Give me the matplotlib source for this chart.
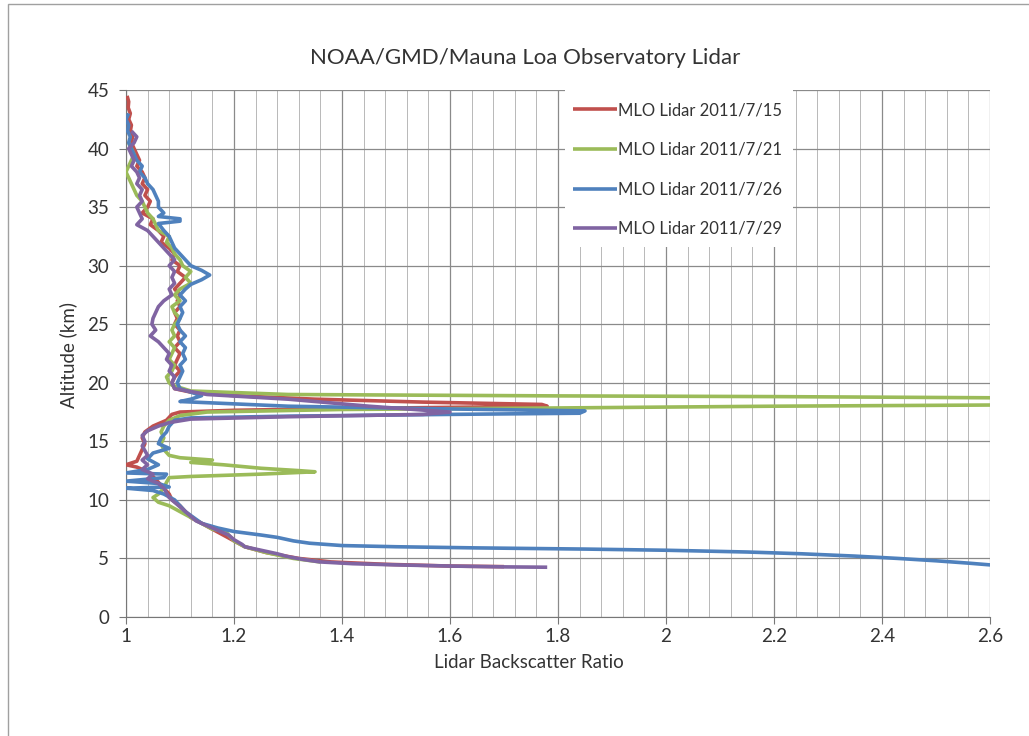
import matplotlib
matplotlib.use("Agg")
import matplotlib.pyplot as plt
from matplotlib.patches import Rectangle
from matplotlib.ticker import MultipleLocator

plt.rcParams["font.family"] = ["Lato", "DejaVu Sans"]

labels = ["MLO Lidar 2011/7/15", "MLO Lidar 2011/7/21", "MLO Lidar 2011/7/26", "MLO Lidar 2011/7/29"]
colors = ["#C0504D", "#9BBB59", "#4F81BD", "#8064A2"]

# 2011/7/15 profile (backscatter ratio, altitude km), traced top to bottom
red_x = [1.002, 1.005, 1.004, 1.008, 1.005, 1.01, 1.008, 1.012, 1.01, 1.015, 1.02, 1.025, 1.02, 1.03,
         1.035, 1.03, 1.04, 1.035, 1.045, 1.04, 1.03, 1.05, 1.045, 1.06, 1.07, 1.065, 1.08, 1.09, 1.085,
         1.1, 1.095, 1.11, 1.1, 1.09, 1.1, 1.095, 1.1, 1.09, 1.095, 1.09, 1.1, 1.095, 1.1, 1.09, 1.1,
         1.095, 1.09, 1.1, 1.09, 1.085, 1.09,
         1.12, 1.2, 1.35, 1.55, 1.77, 1.78, 1.6, 1.4, 1.2, 1.1, 1.085,
         1.075, 1.05, 1.035, 1.03, 1.035, 1.03, 1.025, 1.02, 1.0, 1.02, 1.04, 1.05, 1.06, 1.07, 1.08,
         1.085, 1.1, 1.11, 1.12, 1.14, 1.16, 1.18, 1.2, 1.22, 1.26, 1.32, 1.38, 1.48, 1.6, 1.7]
red_alt = [44.5, 44, 43.5, 43, 42.5, 42, 41.5, 41, 40.5, 40, 39.5, 39, 38.5, 38, 37.5, 37, 36.5, 36,
           35.5, 35, 34.5, 34, 33.5, 33, 32.5, 32, 31.5, 31, 30.5, 30, 29.5, 29, 28.5, 28, 27.5, 27,
           26.5, 26, 25.5, 25, 24.5, 24, 23.5, 23, 22.5, 22, 21.5, 21, 20.5, 20, 19.5,
           19.2, 18.9, 18.6, 18.35, 18.15, 18.0, 17.9, 17.8, 17.65, 17.5, 17.3,
           16.8, 16.3, 15.8, 15.3, 14.8, 14.3, 13.8, 13.3, 13.0, 12.8, 12.4, 12.0, 11.5, 11.0, 10.5,
           10.0, 9.5, 9.0, 8.5, 8.0, 7.5, 7.0, 6.5, 6.0, 5.5, 5.0, 4.7, 4.5, 4.35, 4.3]

# 2011/7/21 profile
green_x = [1.005, 1.01, 1.015, 1.01, 1.005, 1.0, 1.005, 1.01, 1.015, 1.02, 1.03, 1.035, 1.04, 1.05,
           1.055, 1.06, 1.08, 1.075, 1.085, 1.09, 1.1, 1.105, 1.12, 1.11, 1.12, 1.1, 1.09, 1.1, 1.085,
           1.09, 1.1, 1.09, 1.085, 1.09, 1.08, 1.09, 1.085, 1.08, 1.09, 1.085, 1.075, 1.08, 1.085,
           1.12, 1.3, 1.8, 2.2, 2.6, 2.8, 2.6, 2.2, 1.8, 1.4, 1.15, 1.1, 1.08,
           1.07, 1.065, 1.07, 1.065, 1.07, 1.08, 1.1, 1.16, 1.12, 1.18, 1.25, 1.32, 1.35, 1.25, 1.12,
           1.08, 1.075, 1.07, 1.06, 1.05, 1.06, 1.08, 1.1, 1.12, 1.14, 1.16, 1.185, 1.19, 1.2, 1.22,
           1.26, 1.31, 1.36]
green_alt = [40.5, 40, 39.5, 39, 38.5, 38, 37.5, 37, 36.5, 36, 35.5, 35, 34.5, 34, 33.5, 33, 32.5,
             32, 31.5, 31, 30.5, 30, 29.5, 29, 28.5, 28, 27.5, 27, 26.5, 26, 25.5, 25, 24.5, 24, 23.5,
             23, 22.5, 22, 21.5, 21, 20.5, 20, 19.8,
             19.3, 19.0, 18.88, 18.82, 18.72, 18.45, 18.1, 18.0, 17.85, 17.72, 17.5, 17.2, 16.8,
             16.3, 15.8, 15.3, 14.8, 14.3, 13.8, 13.6, 13.4, 13.2, 13.0, 12.7, 12.5, 12.4, 12.2, 12.0,
             11.9, 11.5, 11.0, 10.5, 10.2, 9.8, 9.5, 9.0, 8.5, 8.0, 7.5, 7.3, 7.0, 6.5, 6.0,
             5.5, 5.0, 4.7]

# 2011/7/26 profile
blue_x = [1.005, 1.0, 1.005, 1.003, 1.008, 1.005, 1.01, 1.015, 1.02, 1.03, 1.025, 1.035, 1.04, 1.05,
          1.055, 1.06, 1.06, 1.07, 1.06, 1.1, 1.1, 1.06, 1.07, 1.08, 1.085, 1.09, 1.1, 1.11, 1.12,
          1.14, 1.155, 1.14, 1.12, 1.11, 1.1, 1.11, 1.1, 1.105, 1.1, 1.095, 1.1, 1.11, 1.1, 1.11,
          1.105, 1.11, 1.1, 1.105, 1.1, 1.095, 1.1,
          1.14, 1.12, 1.1, 1.3, 1.55, 1.85, 1.84, 1.6, 1.3, 1.12, 1.09,
          1.08, 1.075, 1.065, 1.06, 1.08, 1.05, 1.04, 1.06, 1.04, 1.0, 1.075, 1.07, 1.0, 1.06, 1.08,
          1.0, 1.05, 1.07, 1.09, 1.1, 1.11, 1.125, 1.14, 1.17, 1.2, 1.25, 1.28, 1.31, 1.34, 1.4, 1.5,
          1.65, 1.85, 2.0, 2.15, 2.25, 2.35, 2.43, 2.5, 2.56, 2.6, 2.65]
blue_alt = [43, 42.5, 42, 41.5, 41, 40.5, 40, 39.5, 39, 38.5, 38, 37.5, 37, 36.5, 36, 35.5, 35, 34.5,
            34.2, 34.0, 33.8, 33.6, 33, 32.5, 32, 31.5, 31, 30.5, 30, 29.6, 29.2, 28.8, 28.4, 28,
            27.5, 27, 26.5, 26, 25.5, 25, 24.5, 24, 23.5, 23, 22.5, 22, 21.5, 21, 20.5, 20, 19.5,
            18.9, 18.6, 18.4, 18.0, 17.8, 17.6, 17.4, 17.3, 17.15, 17.0, 16.8,
            16.3, 15.8, 15.3, 14.8, 14.4, 14.0, 13.5, 13.0, 12.6, 12.3, 12.2, 11.9, 11.6, 11.4, 11.1,
            11.0, 10.8, 10.5, 10.0, 9.5, 9.0, 8.5, 8.0, 7.6, 7.3, 7.0, 6.8, 6.5, 6.3, 6.1, 6.0,
            5.9, 5.8, 5.7, 5.55, 5.4, 5.2, 5.0, 4.8, 4.6, 4.45, 4.35]

# 2011/7/29 profile
purple_x = [1.01, 1.02, 1.015, 1.005, 1.01, 1.015, 1.01, 1.02, 1.025, 1.02, 1.03, 1.025, 1.03, 1.02,
            1.025, 1.03, 1.02, 1.04, 1.05, 1.06, 1.07, 1.08, 1.09, 1.08, 1.09, 1.085, 1.09, 1.08,
            1.085, 1.07, 1.06, 1.055, 1.05, 1.048, 1.055, 1.045, 1.06, 1.07, 1.08, 1.075, 1.085,
            1.08, 1.09, 1.085, 1.09,
            1.15, 1.3, 1.45, 1.6, 1.55, 1.3, 1.12, 1.08,
            1.06, 1.04, 1.03, 1.035, 1.03, 1.035, 1.04, 1.03, 1.04, 1.03, 1.05, 1.04, 1.06, 1.07,
            1.075, 1.08, 1.09, 1.1, 1.11, 1.12, 1.13, 1.15, 1.17, 1.19, 1.2, 1.215, 1.22, 1.25, 1.28,
            1.3, 1.33, 1.36, 1.42, 1.5, 1.6, 1.7, 1.78]
purple_alt = [41.5, 41, 40.5, 40, 39.5, 39, 38.5, 38, 37.5, 37, 36.5, 36, 35.5, 35, 34.5, 34, 33.5,
              33, 32.5, 32, 31.5, 31, 30.5, 30, 29.5, 29, 28.5, 28, 27.5, 27, 26.5, 26, 25.5, 25,
              24.5, 24, 23.5, 23, 22.5, 22, 21.5, 21, 20.5, 20, 19.5,
              19.0, 18.6, 18.0, 17.5, 17.3, 17.1, 16.9, 16.6,
              16.3, 15.9, 15.5, 15.0, 14.6, 14.2, 13.8, 13.4, 13.0, 12.6, 12.2, 11.8, 11.4, 11.0,
              10.6, 10.2, 9.8, 9.4, 9.0, 8.6, 8.2, 7.8, 7.4, 7.0, 6.6, 6.2, 6.0, 5.7, 5.4,
              5.15, 4.9, 4.7, 4.55, 4.45, 4.35, 4.28, 4.25]

series = [(red_x, red_alt), (green_x, green_alt), (blue_x, blue_alt), (purple_x, purple_alt)]

W, H = 1029, 736
fig = plt.figure(figsize=(W / 100, H / 100), dpi=100)
ax = fig.add_axes([126 / W, 1 - 617 / H, (990 - 126) / W, (617 - 90) / H])

for (xs, ys), c, lab in zip(series, colors, labels):
    ax.plot(xs, ys, color=c, lw=2.6, label=lab, solid_capstyle="butt", zorder=3)

ax.set_xlim(1, 2.6)
ax.set_ylim(0, 45)
ax.xaxis.set_minor_locator(MultipleLocator(0.04))
ax.yaxis.set_major_locator(MultipleLocator(5))
ax.set_xticks([1, 1.2, 1.4, 1.6, 1.8, 2, 2.2, 2.4, 2.6])
ax.set_xticklabels(["1", "1.2", "1.4", "1.6", "1.8", "2", "2.2", "2.4", "2.6"])
ax.set_axisbelow(True)
ax.grid(True, which="major", color="#8a8a8a", lw=0.9)
ax.grid(True, which="minor", axis="x", color="#b8b8b8", lw=0.7)

for s in ["top", "right"]:
    ax.spines[s].set_visible(False)
for s in ["left", "bottom"]:
    ax.spines[s].set_color("#777777")
ax.tick_params(which="major", length=5, color="#777777", labelsize=13.5, labelcolor="#333333")
ax.tick_params(axis="x", pad=3)
ax.tick_params(axis="y", pad=7)
ax.tick_params(which="minor", length=0)

fig.text(525 / W, 1 - 58 / H, "NOAA/GMD/Mauna Loa Observatory Lidar", fontsize=16, color="#333333",
         ha="center", va="center")
fig.text(529 / W, 1 - 662 / H, "Lidar Backscatter Ratio", fontsize=13.5, color="#333333",
         ha="center", va="center")
fig.text(68 / W, 1 - 355 / H, "Altitude (km)", fontsize=13.5, color="#333333",
         ha="center", va="center", rotation=90)

# white patch behind the legend, hiding the gridlines there
ax.add_patch(Rectangle((565 / W, 1 - 247 / H), (793 - 565) / W, (247 - 88) / H,
                       transform=fig.transFigure, facecolor="white", edgecolor="none",
                       zorder=1.5, clip_on=False))
leg = ax.legend(loc="upper left", bbox_to_anchor=(573 / W, 1 - 102 / H), bbox_transform=fig.transFigure,
                fontsize=12, frameon=False, labelspacing=1.42, handlelength=2.65, handletextpad=0.05,
                borderpad=0, borderaxespad=0)
for t in leg.get_texts():
    t.set_color("#333333")

fig.patches.append(Rectangle((8 / W, -0.1), 1.2, 1.1 - 4 / H, transform=fig.transFigure,
                             fill=False, edgecolor="#a0a0a0", lw=1.0))

fig.savefig("out.png", dpi=100)
